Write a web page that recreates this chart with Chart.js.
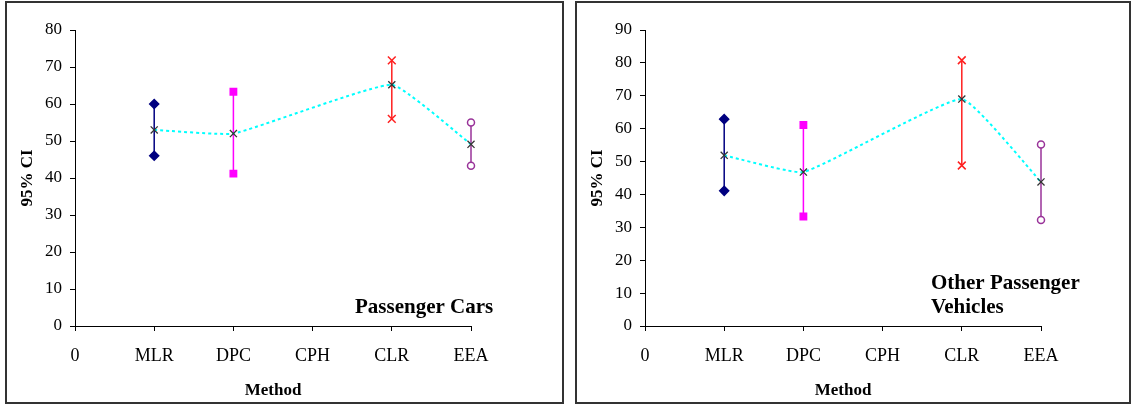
<!DOCTYPE html>
<html>
<head>
<meta charset="utf-8">
<script src="https://cdn.jsdelivr.net/npm/chart.js@4.4.1/dist/chart.umd.min.js"></script>
<style>
  body { margin: 0; background: #fff; width: 1131px; height: 404px; position: relative; overflow: hidden; }
  .panel { position: absolute; box-sizing: border-box; border: 2px solid #333; top: 1px; height: 403px; }
  canvas { position: absolute; top: 3px; }
</style>
</head>
<body>
<div class="panel" style="left:5px; width:559px;"></div>
<div class="panel" style="left:575px; width:556px;"></div>
<canvas id="chart-cars" width="554" height="398" style="left:7px;"></canvas>
<canvas id="chart-otros" width="552" height="398" style="left:577px;"></canvas>
<script>
// categorias (CPH no tiene datos)
const metodos = ['MLR', 'DPC', 'CPH', 'CLR', 'EEA'];
const etiquetasX = ['0', 'MLR', 'DPC', 'CPH', 'CLR', 'EEA'];

// Passenger Cars
const carsSup = [60, 63.3, null, 71.8, 55];
const carsInf = [46, 41.2, null, 56, 43.3];
const carsMedia = [53, 52, null, 65.2, 49.1];

// Other Passenger Vehicles
const otrosSup = [62.9, 61.1, null, 80.8, 55.2];
const otrosInf = [41.1, 33.3, null, 48.8, 32.2];
const otrosMedia = [51.9, 46.8, null, 69, 43.8];

// estilo de cada metodo
const estilos = {
    MLR: { color: '#000080', punto: 'rectRot', radio: 4.5, relleno: '#000080' },
    DPC: { color: '#FF00FF', punto: 'rect', radio: 4.5, relleno: '#FF00FF' },
    CLR: { color: '#FF2020', punto: 'crossRot', radio: 5.5, relleno: '#FF0000' },
    EEA: { color: '#993399', punto: 'circle', radio: 3.5, relleno: '#ffffff' }
};

const serif = 'Liberation Serif, Times New Roman, serif';

function crearDatasets(sup, inf, media) {
    const sets = [];
    // la linea punteada de las medias va primero para quedar encima
    const puntosMedia = [];
    metodos.forEach((m, i) => {
        if (media[i] !== null) puntosMedia.push({ x: i + 1, y: media[i] });
    });
    sets.push({
        data: puntosMedia,
        showLine: true,
        clip: false,
        borderColor: '#00FFFF',
        borderWidth: 2,
        borderDash: [3, 3],
        tension: 0.12,
        pointStyle: 'crossRot',
        pointRadius: 5,
        pointBorderColor: '#333333',
        pointBackgroundColor: '#333333',
        pointBorderWidth: 1.3
    });
    metodos.forEach((m, i) => {
        if (sup[i] === null) return;
        const e = estilos[m];
        sets.push({
            data: [{ x: i + 1, y: sup[i] }, { x: i + 1, y: inf[i] }],
            showLine: true,
            clip: false,
            borderColor: e.color,
            borderWidth: 1.5,
            pointStyle: e.punto,
            pointRadius: e.radio,
            pointBorderColor: e.color,
            pointBackgroundColor: e.relleno,
            pointBorderWidth: 1.5
        });
    });
    return sets;
}

function textoPlugin(lineas) {
    return {
        id: 'texto',
        afterDraw(c) {
            const ctx = c.ctx;
            ctx.save();
            ctx.font = 'bold 21px ' + serif;
            ctx.fillStyle = '#000';
            ctx.textBaseline = 'middle';
            ctx.textAlign = 'left';
            lineas.forEach(l => ctx.fillText(l.t, l.x, l.y));
            ctx.restore();
        }
    };
}

function crearGrafica(id, sup, inf, media, maxY, derecha, lineas) {
    const ctx = document.getElementById(id).getContext('2d');
    return new Chart(ctx, {
        type: 'scatter',
        data: { datasets: crearDatasets(sup, inf, media) },
        options: {
            responsive: false,
            animation: false,
            layout: { padding: { top: 27, right: derecha, left: 0, bottom: 0 } },
            plugins: { legend: { display: false }, tooltip: { enabled: false } },
            scales: {
                x: {
                    type: 'linear',
                    min: 0,
                    max: 5,
                    afterFit: s => { s.height = 75; },
                    ticks: {
                        stepSize: 1,
                        color: '#000',
                        padding: 14,
                        font: { family: serif, size: 18 },
                        callback: v => etiquetasX[v]
                    },
                    grid: { drawOnChartArea: false, tickLength: 5, color: '#000' },
                    border: { color: '#000', width: 1 },
                    title: {
                        display: true,
                        text: 'Method',
                        color: '#000',
                        font: { family: serif, size: 17, weight: 'bold' },
                        padding: { top: 4, bottom: 0 }
                    }
                },
                y: {
                    min: 0,
                    max: maxY,
                    afterFit: s => { s.width = 68; },
                    ticks: {
                        stepSize: 10,
                        color: '#000',
                        padding: 8,
                        font: { family: serif, size: 17 }
                    },
                    grid: { drawOnChartArea: false, tickLength: 5, color: '#000' },
                    border: { color: '#000', width: 1 },
                    title: {
                        display: true,
                        text: '95% CI',
                        color: '#000',
                        font: { family: serif, size: 17, weight: 'bold' },
                        padding: { top: 10, bottom: 0 }
                    }
                }
            }
        },
        plugins: [textoPlugin(lineas)]
    });
}

crearGrafica('chart-cars', carsSup, carsInf, carsMedia, 80, 90,
    [{ t: 'Passenger Cars', x: 348, y: 305 }]);
crearGrafica('chart-otros', otrosSup, otrosInf, otrosMedia, 90, 88,
    [{ t: 'Other Passenger', x: 354, y: 281 }, { t: 'Vehicles', x: 354, y: 305 }]);
</script>
</body>
</html>
